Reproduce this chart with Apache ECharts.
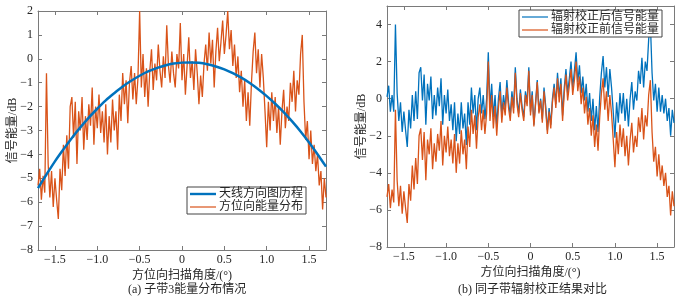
<!DOCTYPE html>
<html>
<head>
<meta charset="utf-8">
<script src="https://cdn.jsdelivr.net/npm/echarts@6/dist/echarts.min.js"></script>
<style>
html, body { margin: 0; padding: 0; background: #fff; }
#chart { width: 683px; height: 301px; }
</style>
</head>
<body>
<div id="chart"></div>
<script>
// azimuth scan angle grid (deg)
var angleStart = -1.7;
var angleStep = 0.02;

// energy before radiometric correction (dB), also the sub-band 3 energy
var energyBefore = [
	-5.3, -4.6, -5.9, -4.9, -5.6, -0.6,
	-4.4, -5.8, -4.7, -6.2, -5.0, -5.9, -6.7, -4.6,
	-5.5, -3.6, -4.9, -3.2, -4.6, -2.0, -1.6,
	-3.3, -1.8, -4.4, -2.2, -3.0, -1.6, -3.8, -2.4, -3.4, -1.9,
	-2.8, -1.2, -3.6, -2.0, -2.9, -1.5, -3.1, -2.2, -3.5, -1.9,
	-4.0, -2.4, -3.5, -1.7, -3.0, -2.2, -3.8,
	-1.5, -2.6, -0.6, -1.9, -0.9, -2.7, -1.0, -0.3, -1.7,
	-0.6, -1.9, -0.8, 2.0,
	-1.2, 0.2, -1.6, -0.4, -2.0, -0.5, 0.4, -1.3,
	-0.2, -0.9, 0.6, -0.5, -1.2, 0.1, -0.8, 1.4, -0.3, -1.0, 0.3, -0.6, -1.2, 0.2, -0.4, 1.5,
	-0.9, 0.2, -1.5, -0.3, 0.9, -0.8, -0.1, -1.3, 0.4, -0.6,
	-1.9, -0.7, -1.6, -0.2,
	0.6, -0.5, 1.1, -0.2, 0.8, -1.2, 0.3, 1.3, -0.1, 0.7, 1.6, 0.2, 1.0, 2.0,
	0.4, 1.2, -0.3, 0.6, -0.8, 0.1, -1.4, -0.5, -2.0, -0.9, -2.6, -1.4, -2.8,
	-1.0, 0.3, 1.1, -0.6, 0.4, -1.2, 0.2, -0.8,
	-2.2, -3.7, -1.8, -3.0,
	-1.4, -2.6, -1.6, -3.1, -2.0, -3.6, -2.2, -1.3, -2.9, -2.0,
	-2.6, -1.0, -1.8, -0.5, -2.2, -0.9, -1.5, 0.2, 1.0,
	-1.8, -3.4, -2.6, -4.2, -3.0, -4.4, -3.6, -4.7, -4.0,
	-5.3, -4.7, -6.3, -5.0, -5.8
];

// energy after radiometric correction (dB)
var energyAfter = [
	0.1, 0.7, -0.7, 0.2, -0.7, 4.0,
	0.3, -1.2, -0.2, -1.8, -0.7, -1.7, -2.6, -0.6,
	-1.6, 0.2, -1.2, 0.4, -1.1, 1.4, 1.7,
	-0.1, 1.3, -1.4, 0.8, -0.1, 1.2, -1.1, 0.2, -0.9, 0.6,
	-0.4, 1.1, -1.4, 0.2, -0.8, 0.5, -1.2, -0.3, -1.7, -0.2,
	-2.3, -0.8, -1.9, -0.2, -1.6, -0.8, -2.5,
	-0.2, -1.4, 0.6, -0.8, 0.2, -1.7, 0.0, 0.6, -0.8,
	0.2, -1.1, 0.0, 2.5,
	-0.5, 0.8, -1.0, 0.2, -1.5, 0.0, 0.9, -0.9,
	0.2, -0.5, 1.0, -0.2, -0.9, 0.4, -0.5, 1.7, 0.0, -0.8, 0.5, -0.4, -1.0, 0.4, -0.2, 1.7,
	-0.7, 0.4, -1.4, -0.2, 1.0, -0.7, 0.0, -1.1, 0.6, -0.4,
	-1.7, -0.5, -1.4, 0.0,
	0.8, -0.3, 1.4, 0.1, 1.1, -0.9, 0.6, 1.6, 0.3, 1.1, 2.0, 0.6, 1.5, 2.5,
	0.9, 1.8, 0.3, 1.2, -0.1, 0.8, -0.7, 0.3, -1.2, 0.0, -1.7, -0.4, -1.8,
	0.1, 1.4, 2.3, 0.6, 1.7, 0.1, 1.6, 0.6,
	-0.7, -2.1, -0.2, -1.3,
	0.3, -0.8, 0.3, -1.2, 0.0, -1.5, 0.0, 0.9, -0.6, 0.4,
	-0.1, 1.5, 0.8, 2.2, 0.6, 2.0, 1.5, 3.2, 4.1,
	1.4, -0.1, 0.8, -0.7, 0.6, -0.7, 0.2, -0.8, 0.0,
	-1.2, -0.5, -2.0, -0.6, -1.3
];

// antenna pattern, sampled every 0.1 deg from -1.7
var patternStart = -1.7;
var patternStep = 0.1;
var antennaPattern = [
	-5.41, -4.84, -4.29, -3.79, -3.31, -2.87, -2.46, -2.09, -1.74, -1.44,
	-1.16, -0.92, -0.71, -0.53, -0.39, -0.28, -0.20, -0.16, -0.15, -0.17,
	-0.23, -0.32, -0.44, -0.60, -0.79, -1.01, -1.27, -1.56, -1.88, -2.23,
	-2.62, -3.04, -3.50, -3.99, -4.51
];

var xTicks = [-1.5, -1, -0.5, 0, 0.5, 1, 1.5];
var yTicksRight = [-8, -6, -4, -2, 0, 2, 4];

var BLUE = '#0072BD';
var ORANGE = '#D95319';
var BOX = '#7a7a7a';
var TXT = '#262626';
var FONT = '"Liberation Serif", "Noto Sans CJK SC", serif';

// legend icons: a plain line segment (extra M points keep the full icon box)
var ICON_THIN = 'path://M0,0 M0,12 M0,5.4 L26,5.4 L26,6.6 L0,6.6 Z';
var ICON_THICK = 'path://M0,0 M0,12 M0,4.8 L26,4.8 L26,7.2 L0,7.2 Z';

function pairs(start, step, vals) {
	return vals.map(function(v, i) {
		return [+(start + i * step).toFixed(2), v];
	});
}

function minus(s) {
	return String(s).replace('-', '\u2212');
}

function xAxis(grid, main) {
	return {
		type: 'value', gridIndex: grid, position: main ? 'bottom' : 'top',
		min: -1.7, max: 1.7,
		axisLine: { show: true, onZero: false, lineStyle: { color: BOX, width: 1 } },
		axisTick: { show: true, inside: true, length: 4, customValues: xTicks, lineStyle: { color: BOX } },
		axisLabel: {
			show: main, customValues: xTicks, margin: 4, color: TXT, fontFamily: FONT, fontSize: 12,
			formatter: function(v) { return v === 0 ? '0' : minus(v.toFixed(1)); }
		},
		splitLine: { show: false },
		name: main ? '方位向扫描角度/(°)' : '',
		nameLocation: 'middle', nameGap: main ? 20 : 0, nameMoveOverlap: false,
		nameTextStyle: { color: TXT, fontFamily: FONT, fontSize: 12 }
	};
}

function yAxis(grid, main, right) {
	var ax = {
		type: 'value', gridIndex: grid, position: main ? 'left' : 'right',
		min: -8, max: right ? 5 : 2,
		axisLine: { show: true, onZero: false, lineStyle: { color: BOX, width: 1 } },
		axisTick: { show: true, inside: true, length: 4, lineStyle: { color: BOX } },
		axisLabel: {
			show: main, margin: 5, color: TXT, fontFamily: FONT, fontSize: 12,
			formatter: function(v) { return minus(v); }
		},
		splitLine: { show: false },
		name: main ? '信号能量/dB' : '',
		nameLocation: 'middle', nameGap: main ? 19 : 0, nameMoveOverlap: false,
		nameTextStyle: { color: TXT, fontFamily: FONT, fontSize: 12 }
	};
	if (right) {
		ax.axisTick.customValues = yTicksRight;
		ax.axisLabel.customValues = yTicksRight;
	} else {
		ax.interval = 1;
	}
	return ax;
}

function legend(left, top, items) {
	return {
		data: items, left: left, top: top, orient: 'vertical',
		selectedMode: false,
		backgroundColor: '#fff', borderColor: '#444', borderWidth: 1,
		padding: [1, 3, 1, 3], itemGap: 1, itemWidth: 26, itemHeight: 12,
		textStyle: { color: TXT, fontFamily: FONT, fontSize: 12, padding: [0, 0, 0, -2] }
	};
}

var option = {
	animation: false,
	backgroundColor: '#fff',
	grid: [
		{ left: 38, top: 11, width: 288, height: 239 },
		{ left: 387, top: 6, width: 287, height: 241 }
	],
	xAxis: [xAxis(0, true), xAxis(0, false), xAxis(1, true), xAxis(1, false)],
	yAxis: [yAxis(0, true, false), yAxis(0, false, false), yAxis(1, true, true), yAxis(1, false, true)],
	legend: [
		legend(187, 187, [
			{ name: '天线方向图历程', icon: ICON_THICK },
			{ name: '方位向能量分布', icon: ICON_THIN }
		]),
		legend(519, 10, [
			{ name: '辐射校正后信号能量', icon: ICON_THIN },
			{ name: '辐射校正前信号能量', icon: ICON_THIN }
		])
	],
	graphic: [
		{ type: 'text', left: 128, top: 284, style: { text: '(a) 子带3能量分布情况', font: '12px ' + FONT, fill: TXT } },
		{ type: 'text', left: 458, top: 284, style: { text: '(b) 同子带辐射校正结果对比', font: '12px ' + FONT, fill: TXT } }
	],
	series: [
		{
			name: '方位向能量分布', type: 'line', xAxisIndex: 0, yAxisIndex: 0,
			data: pairs(angleStart, angleStep, energyBefore),
			symbol: 'none', lineStyle: { color: ORANGE, width: 1.3 }, itemStyle: { color: ORANGE }
		},
		{
			name: '天线方向图历程', type: 'line', xAxisIndex: 0, yAxisIndex: 0,
			data: pairs(patternStart, patternStep, antennaPattern), smooth: 0.3,
			symbol: 'none', lineStyle: { color: BLUE, width: 2.5 }, itemStyle: { color: BLUE }
		},
		{
			name: '辐射校正后信号能量', type: 'line', xAxisIndex: 2, yAxisIndex: 2,
			data: pairs(angleStart, angleStep, energyAfter),
			symbol: 'none', lineStyle: { color: BLUE, width: 1.3 }, itemStyle: { color: BLUE }
		},
		{
			name: '辐射校正前信号能量', type: 'line', xAxisIndex: 2, yAxisIndex: 2,
			data: pairs(angleStart, angleStep, energyBefore),
			symbol: 'none', lineStyle: { color: ORANGE, width: 1.3 }, itemStyle: { color: ORANGE }
		}
	]
};

var chart = echarts.init(document.getElementById('chart'));
chart.setOption(option);
</script>
</body>
</html>
